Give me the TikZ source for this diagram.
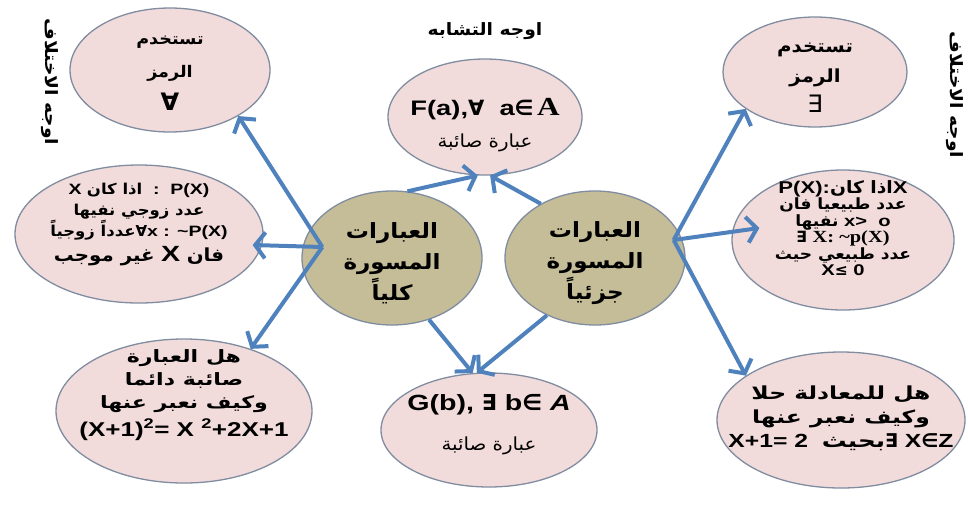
\documentclass[tikz,border=0pt]{standalone}
\usepackage{fontspec}
\setmainfont[FakeStretch=1.3]{Liberation Sans}
\newfontfamily\ar[Script=Arabic,FakeStretch=1.1]{DejaVu Sans}
\newfontfamily\arl[Script=Arabic,FakeStretch=1.3]{DejaVu Sans}
\newfontfamily\sym{DejaVu Sans}
\newfontfamily\srf[FakeStretch=1.2]{Liberation Serif}
\TeXXeTstate=1
\usepackage{tikz}
\usetikzlibrary{shapes,arrows.meta}
\definecolor{rose}{RGB}{242,220,219}
\definecolor{olivier}{RGB}{196,189,151}
\definecolor{bord}{RGB}{128,140,160}
\definecolor{bleu}{RGB}{79,129,189}
\newcommand{\arb}[1]{{\ar\beginR #1\endR}}
\newcommand{\arw}[1]{{\arl\beginR #1\endR}}
\tikzstyle{fleche} = [line width=4pt, bleu, -{Straight Barb[length=10pt,width=26pt]}]
\tikzstyle{bulle} = [draw=bord, ellipse, fill=rose, line width=1.3pt, inner sep=0pt]
\tikzstyle{centre} = [draw=bord, ellipse, fill=olivier, line width=1.3pt, inner sep=0pt, minimum width=180pt, minimum height=134pt]
\tikzstyle{texte} = [align=center, inner sep=0pt]

\begin{document}
\begin{tikzpicture}[x=1pt,y=-1pt]
        \useasboundingbox (0,0) rectangle (968,509);
        % les bulles
        \node[bulle, minimum width=200pt, minimum height=124pt](tl) at (170,70){};
        \node[bulle, minimum width=194pt, minimum height=116pt](tc) at (485,117){};
        \node[bulle, minimum width=184pt, minimum height=110pt](tr) at (815,72){};
        \node[bulle, minimum width=248pt, minimum height=138pt](ml) at (139,234){};
        \node[bulle, minimum width=222pt, minimum height=140pt](mr) at (843,240){};
        \node[bulle, minimum width=256pt, minimum height=144pt](bl) at (184,411){};
        \node[bulle, minimum width=216pt, minimum height=114pt](bc) at (489,430){};
        \node[bulle, minimum width=248pt, minimum height=136pt](br) at (841,420){};
        \node[centre](kul) at (392,258){};
        \node[centre](juz) at (595,258){};
        % les textes
        \node[texte, font=\fontsize{17}{18}\selectfont\bfseries](simil) at (485,31){\arb{اوجه التشابه}};
        \node[texte, rotate=-90, font=\fontsize{17}{18}\selectfont\bfseries](diffg) at (50,82){\arb{اوجه الاختلاف}};
        \node[texte, rotate=-90, font=\fontsize{17}{18}\selectfont\bfseries](diffd) at (955,95){\arb{اوجه الاختلاف}};
        \node[texte, font=\fontsize{16}{33}\selectfont\bfseries](tl-t) at ([yshift=-3pt]tl){\arb{تستخدم}\\ \arb{الرمز}\\ {\sym\fontsize{24}{33}\selectfont ∀}};
        \node[texte, font=\fontsize{18}{30}\selectfont\bfseries](tr-t) at ([yshift=-6pt]tr){\arb{تستخدم}\\ \arb{الرمز}\\ {\sym\mdseries\fontsize{24}{30}\selectfont ∃}};
        \node[texte, font=\fontsize{21}{32}\selectfont\bfseries](tc-t) at ([yshift=-8pt]tc){F(a),{\sym∀}\ \ a{\sym∈}\,{\srf\fontsize{26}{32}\selectfont A}\\ {\mdseries\fontsize{18}{32}\selectfont\arb{عبارة صائبة}}};
        \node[texte, font=\fontsize{15}{21}\selectfont\bfseries](ml-t) at ([yshift=10pt]ml){X\ \arb{اذا كان}\ \ :\ \ P(X)\\ \arb{عدد زوجي نفيها}\\ \arb{عدداً زوجياً}{\sym∀}x : \textasciitilde P(X)\\[4pt] {\fontsize{18}{24}\selectfont\arb{غير موجب} {\fontsize{22}{24}\selectfont X} \arb{فان}}};
        \node[texte, font=\fontsize{15.5}{16.5}\selectfont\bfseries](mr-t) at ([yshift=12pt]mr){{\fontsize{17}{17}\selectfont P(X):\arb{اذا كان}X}\\ \arb{عدد طبيعيا فان}\\ \arb{نفيها} x>\ \ o\\ {\sym∃}\ {\srf\fontsize{17}{16}\selectfont X: \textasciitilde p(X)}\\ \arb{عدد طبيعي حيث}\\ X{\sym≤} 0};
        \node[texte, font=\fontsize{17}{23}\selectfont\bfseries](bl-t) at ([yshift=16pt]bl){\arw{هل العبارة}\\ \arw{صائبة دائما}\\ \arw{وكيف نعبر عنها}\\[5pt] {\fontsize{20}{29}\selectfont (X+1)\textsuperscript{2}= X \textsuperscript{2}+2X+1}};
        \node[texte, font=\fontsize{22}{40}\selectfont\bfseries](bc-t) at ([yshift=5pt]bc){G(b), {\sym∃} b{\sym∈} {\itshape A}\\ {\mdseries\fontsize{18}{40}\selectfont\arb{عبارة صائبة}}};
        \node[texte, font=\fontsize{18}{24}\selectfont\bfseries](br-t) at ([yshift=2pt]br){\arw{هل للمعادلة حلا}\\ \arw{وكيف نعبر عنها}\\ {\fontsize{19}{28}\selectfont X+1= 2\ \ \arw{بحيث}{\sym∃} X{\sym∈}Z}};
        \node[texte, font=\fontsize{21}{31}\selectfont\bfseries](kul-t) at ([yshift=-5pt]kul){\arb{العبارات}\\ \arb{المسورة}\\ \arb{كلياً}};
        \node[texte, font=\fontsize{21}{31}\selectfont\bfseries](juz-t) at ([yshift=-5pt]juz){\arb{العبارات}\\ \arb{المسورة}\\ \arb{جزئياً}};
        % les fleches
        \path[fleche]([xshift=21pt,yshift=11pt]kul.west) edge (tl.-34);
        \path[fleche]([xshift=21pt,yshift=11pt]kul.west) edge ([shift={(-11,11)}]ml.east);
        \path[fleche]([xshift=21pt,yshift=11pt]kul.west) edge (bl.43);
        \path[fleche](kul.77) edge (tc.-97);
        \path[fleche](kul.-59) edge (bc.106);
        \path[fleche](juz.135) edge (tc.-85);
        \path[fleche](juz.-130) edge (bc.102);
        \path[fleche]([xshift=-12pt,yshift=18pt]juz.east) edge (tr.-152);
        \path[fleche]([xshift=-12pt,yshift=18pt]juz.east) edge ([shift={(28,-12)}]mr.west);
        \path[fleche]([xshift=-12pt,yshift=18pt]juz.east) edge (br.155);
    \end{tikzpicture}
\end{document}
